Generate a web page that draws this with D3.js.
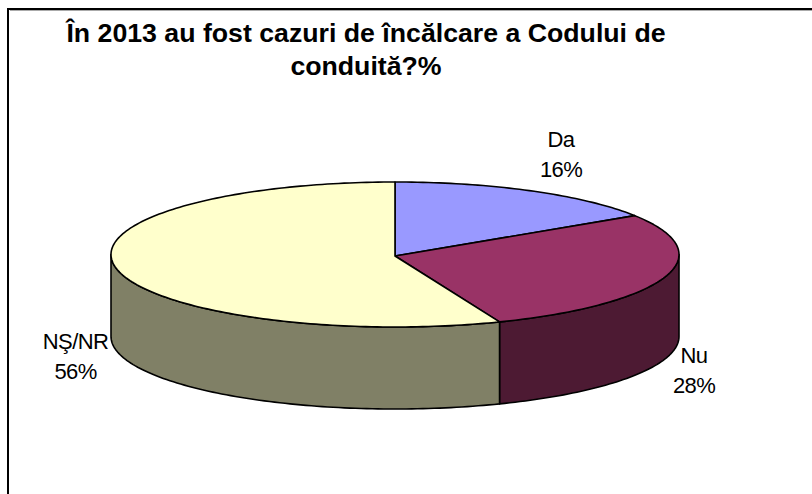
<!DOCTYPE html>
<html><head><meta charset="utf-8">
<script src="https://cdn.jsdelivr.net/npm/d3@7"></script>
<style>html,body{margin:0;padding:0;background:#fff}svg{display:block}text{font-family:"Liberation Sans",Arial,sans-serif}</style>
</head><body><svg id="c" width="812" height="494"></svg>
<script>
const categories = ["Da","Nu","NŞ/NR"];
const values = [16,28,56];
const topColors = ["#9999ff","#993366","#ffffcc"];
const sideColors = ["#4c4c80","#4d1a33","#808066"];
const titleLines = ["În 2013 au fost cazuri de încălcare a Codului de","conduită?%"];
const labelPos = [[561,147],[694,363],[75.5,349]];

const W=812,H=494,cx=395,cy=254.5,rx=284,ry=72.5,depth=82;
const svg=d3.select("#c");
svg.append("rect").attr("width",W).attr("height",H).attr("fill","#fff");
svg.append("path").attr("d",d3.line()([[10,10.5],[W,10.5]])).attr("fill","none").attr("stroke","#aaa").attr("stroke-width",1);
svg.append("path").attr("d",d3.line()([[8,H],[8,9],[W,9]])).attr("fill","none").attr("stroke","#000").attr("stroke-width",2);

const pie=d3.pie().sort(null).startAngle(0).endAngle(2*Math.PI);
const arcs=pie(values);
const px=a=>cx+rx*Math.sin(a), py=(a,d=0)=>cy-ry*Math.cos(a)+d;
const line=d3.line();
function samples(a0,a1){const n=Math.max(2,Math.ceil((a1-a0)/0.02));return d3.range(n+1).map(i=>a0+(a1-a0)*i/n);}

const lo=Math.PI/2,hi=3*Math.PI/2;
const g=svg.append("g").attr("stroke","#000").attr("stroke-width",1.6).attr("stroke-linejoin","round");
arcs.forEach((d,i)=>{
  const a0=Math.max(d.startAngle,lo),a1=Math.min(d.endAngle,hi);
  if(a1<=a0) return;
  const s=samples(a0,a1);
  const pts=s.map(a=>[px(a),py(a)]).concat(s.slice().reverse().map(a=>[px(a),py(a,depth)]));
  g.append("path").attr("d",line(pts)+"Z").attr("fill",sideColors[i]);
});
arcs.forEach((d,i)=>{
  const s=samples(d.startAngle,d.endAngle);
  const pts=[[cx,cy+1.5]].concat(s.map(a=>[px(a),py(a)]));
  g.append("path").attr("d",line(pts)+"Z").attr("fill",topColors[i]);
});
categories.forEach((c,i)=>{
  const t=svg.append("text").attr("font-size",22).attr("letter-spacing",-0.6).attr("text-anchor","middle").attr("fill","#000");
  t.append("tspan").attr("x",labelPos[i][0]).attr("y",labelPos[i][1]).text(c);
  t.append("tspan").attr("x",labelPos[i][0]).attr("y",labelPos[i][1]+30).text(values[i]+"%");
});
titleLines.forEach((s,i)=>svg.append("text").attr("x",366).attr("y",[41.5,75][i]).attr("text-anchor","middle")
  .attr("font-size",26.7).attr("font-weight","bold").attr("fill","#000").text(s));
</script></body></html>
